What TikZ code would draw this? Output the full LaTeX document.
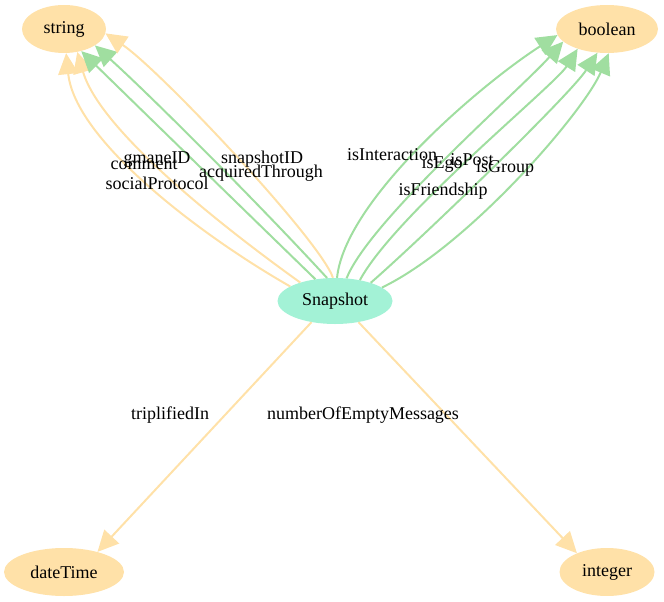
\documentclass[tikz,border=0pt]{standalone}
\usepackage{fontspec}
\setmainfont{Liberation Serif}
\usetikzlibrary{arrows.meta,shapes.geometric}
\definecolor{nwhite}{HTML}{FFE1A8}
\definecolor{egreen}{RGB}{160,222,160}
\definecolor{mint}{RGB}{163,242,214}
\begin{document}
\begin{tikzpicture}[x=1pt,y=-1pt,
  cls/.style={ellipse, fill=nwhite, inner sep=0pt, minimum height=48pt, font=\fontsize{18}{20}\selectfont},
  main/.style={ellipse, fill=mint, inner sep=0pt, minimum height=46pt, minimum width=115pt, font=\fontsize{18}{20}\selectfont},
  yedge/.style={draw=nwhite, line width=2pt, -{Triangle[length=21pt,width=20pt,fill=nwhite]}},
  gedge/.style={draw=egreen, line width=2pt, -{Triangle[length=21pt,width=20pt,fill=egreen]}},
  lbl/.style={inner sep=0pt, font=\fontsize{18}{20}\selectfont}
]
\useasboundingbox (0,0) rectangle (664,602);
\node[cls, minimum width=84pt] (str) at (64,29) {string};
\node[cls, minimum width=102pt] (bool) at (607,29) {boolean};
\node[main] (snap) at (335,301) {Snapshot};
\node[cls, minimum width=120pt] (dt) at (64,572) {dateTime};
\node[cls, minimum width=95pt] (int) at (607,572) {integer};

% edges to string
\draw[yedge] (snap.162) .. controls (200,235) and (75,140) .. (str.-85);
\draw[yedge] (snap.152) .. controls (220,225) and (100,130) .. (str.-60);
\draw[gedge] (snap.132) .. controls (237,203) and (159,127) .. (str.-52);
\draw[gedge] (snap.109) .. controls (260,205) and (150,95) .. (str.-28);
\draw[yedge] (snap.95) .. controls (320,240) and (160,70) .. (str.-6);

% edges to boolean
\draw[gedge] (snap.85) .. controls (345,200) and (480,85) .. (bool.-173);
\draw[gedge] (snap.63) .. controls (370,220) and (520,90) .. (bool.-164);
\draw[gedge] (snap.40) .. controls (395,215) and (555,85) .. (bool.-146);
\draw[gedge] (snap.27) .. controls (420,240) and (570,95) .. (bool.-112);
\draw[gedge] (snap.16) .. controls (470,245) and (585,110) .. (bool.-86);

% lower edges
\draw[yedge] (snap.-138) -- (dt.31);
\draw[yedge] (snap.-42) -- (int.148);

% labels
\node[lbl] (l1) at (144,165) {comment};
\node[lbl] (l2) at (157,160) {gmaneID};
\node[lbl] (l3) at (157,183) {socialProtocol};
\node[lbl] (l4) at (262,159) {snapshotID};
\node[lbl] (l5) at (261,173) {acquiredThrough};
\node[lbl] (l6) at (392,155) {isInteraction};
\node[lbl] (l7) at (442,164) {isEgo};
\node[lbl] (l8) at (472,160) {isPost};
\node[lbl] (l9) at (505,168) {isGroup};
\node[lbl] (l10) at (443,191) {isFriendship};
\node[lbl] (l11) at (170,415) {triplifiedIn};
\node[lbl] (l12) at (363,415) {numberOfEmptyMessages};
\end{tikzpicture}
\end{document}
